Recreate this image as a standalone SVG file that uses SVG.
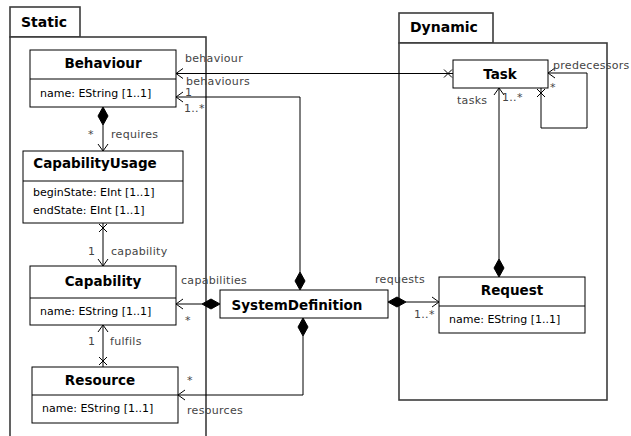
<svg xmlns="http://www.w3.org/2000/svg" width="631" height="436" viewBox="0 0 631 436">
<style>
.pkg{fill:#fff;stroke:#3c3c3c;stroke-width:1.6}
.cls{fill:#fff;stroke:#000;stroke-width:1}
.div{stroke:#000;stroke-width:1}
.t{font-family:"DejaVu Sans",sans-serif;font-weight:bold;font-size:13.5px;fill:#000}
.pt{font-family:"DejaVu Sans",sans-serif;font-weight:bold;font-size:14px;fill:#000}
.a{font-family:"DejaVu Sans",sans-serif;font-size:11px;fill:#000}
.l{font-family:"DejaVu Sans",sans-serif;font-size:11px;fill:#444;letter-spacing:0.3px}
.c{fill:none;stroke:#000;stroke-width:1}
.d{fill:#000;stroke:#000;stroke-width:1}
</style>
<rect width="631" height="436" fill="#fff"/>
<g id="pkg-static">
<rect class="pkg" x="10" y="7" width="70" height="30"/>
<rect class="pkg" x="10" y="37" width="196" height="420"/>
<text class="pt" x="21" y="27">Static</text>
</g>
<g id="pkg-dynamic">
<rect class="pkg" x="399" y="13" width="94" height="30"/>
<rect class="pkg" x="399" y="43" width="208" height="357"/>
<text class="pt" x="410" y="32">Dynamic</text>
</g>
<g id="connectors">
<!-- behaviour -->
<path class="c" d="M176,73.5 H453"/>
<path class="c" d="M183,68.5 L176,73.5 L183,78.5"/>
<path class="c" d="M444,69.5 L452,77.5 M444,77.5 L452,69.5"/>
<text class="l" x="185" y="62">behaviour</text>
<!-- behaviours -->
<path class="c" d="M300,272 V97 H176"/>
<path class="d" d="M300,290 L305,281 L300,272 L295,281 Z"/>
<path class="c" d="M183,92 L176,97 L183,102"/>
<text class="l" x="186" y="85">behaviours</text>
<text class="l" x="185" y="96">1</text>
<text class="l" x="184" y="112">1..*</text>
<!-- requires -->
<path class="d" d="M103,107 L108,116 L103,125 L98,116 Z"/>
<path class="c" d="M103,125 V151"/>
<path class="c" d="M98,144 L103,151 L108,144"/>
<text class="l" x="88" y="138">*</text>
<text class="l" x="111" y="138">requires</text>
<!-- capability -->
<path class="c" d="M103,223 V266"/>
<path class="c" d="M99,224 L107,232 M99,232 L107,224"/>
<path class="c" d="M98,259 L103,266 L108,259"/>
<text class="l" x="88" y="255">1</text>
<text class="l" x="111" y="255">capability</text>
<!-- fulfils -->
<path class="c" d="M103,367 V325"/>
<path class="c" d="M99,357 L107,365 M99,365 L107,357"/>
<path class="c" d="M98,332 L103,325 L108,332"/>
<text class="l" x="88" y="345">1</text>
<text class="l" x="110" y="345">fulfils</text>
<!-- capabilities -->
<path class="d" d="M220,304 L211,299 L202,304 L211,309 Z"/>
<path class="c" d="M202,304 H176"/>
<path class="c" d="M183,299 L176,304 L183,309"/>
<text class="l" x="181" y="284">capabilities</text>
<text class="l" x="185" y="324">*</text>
<!-- resources -->
<path class="d" d="M303,318 L308,327 L303,336 L298,327 Z"/>
<path class="c" d="M303,336 V395 H178"/>
<path class="c" d="M185,390 L178,395 L185,400"/>
<text class="l" x="187" y="384">*</text>
<text class="l" x="187" y="414">resources</text>
<!-- requests -->
<path class="d" d="M388,302 L397,297 L406,302 L397,307 Z"/>
<path class="c" d="M406,302 H439"/>
<path class="c" d="M432,297 L439,302 L432,307"/>
<text class="l" x="375" y="283">requests</text>
<text class="l" x="414" y="318">1..*</text>
<!-- tasks -->
<path class="d" d="M499,277 L504,268 L499,259 L494,268 Z"/>
<path class="c" d="M499,259 V88"/>
<path class="c" d="M494,95 L499,88 L504,95"/>
<text class="l" x="457" y="104">tasks</text>
<text class="l" x="502" y="101">1..*</text>
<!-- predecessors -->
<path class="c" d="M548,73 H587 V128 H541 V88"/>
<path class="c" d="M555,68 L548,73 L555,78"/>
<path class="c" d="M537,89 L545,97 M537,97 L545,89"/>
<text class="l" x="553" y="69">predecessors</text>
<text class="l" x="550" y="91">*</text>
</g>
<g id="Behaviour">
<rect class="cls" x="30" y="50" width="146" height="57"/>
<line class="div" x1="30" y1="79" x2="176" y2="79"/>
<text class="t" x="103" y="68" text-anchor="middle">Behaviour</text>
<text class="a" x="40" y="97">name: EString [1..1]</text>
</g>
<g id="CapabilityUsage">
<rect class="cls" x="23" y="151" width="160" height="72"/>
<line class="div" x1="23" y1="181" x2="183" y2="181"/>
<text class="t" x="95" y="168" text-anchor="middle">CapabilityUsage</text>
<text class="a" x="33" y="196">beginState: EInt [1..1]</text>
<text class="a" x="33" y="214">endState: EInt [1..1]</text>
</g>
<g id="Capability">
<rect class="cls" x="30" y="266" width="146" height="59"/>
<line class="div" x1="30" y1="298" x2="176" y2="298"/>
<text class="t" x="103" y="286" text-anchor="middle">Capability</text>
<text class="a" x="40" y="315">name: EString [1..1]</text>
</g>
<g id="Resource">
<rect class="cls" x="32" y="367" width="146" height="56"/>
<line class="div" x1="32" y1="395" x2="178" y2="395"/>
<text class="t" x="100" y="385" text-anchor="middle">Resource</text>
<text class="a" x="42" y="412">name: EString [1..1]</text>
</g>
<g id="SystemDefinition">
<rect class="cls" x="220" y="290" width="168" height="28"/>
<text class="t" x="297" y="310" text-anchor="middle">SystemDefinition</text>
</g>
<g id="Task">
<rect class="cls" x="453" y="60" width="95" height="28"/>
<text class="t" x="500" y="79" text-anchor="middle">Task</text>
</g>
<g id="Request">
<rect class="cls" x="439" y="277" width="146" height="56"/>
<line class="div" x1="439" y1="306" x2="585" y2="306"/>
<text class="t" x="512" y="295" text-anchor="middle">Request</text>
<text class="a" x="449" y="323">name: EString [1..1]</text>
</g>
</svg>
